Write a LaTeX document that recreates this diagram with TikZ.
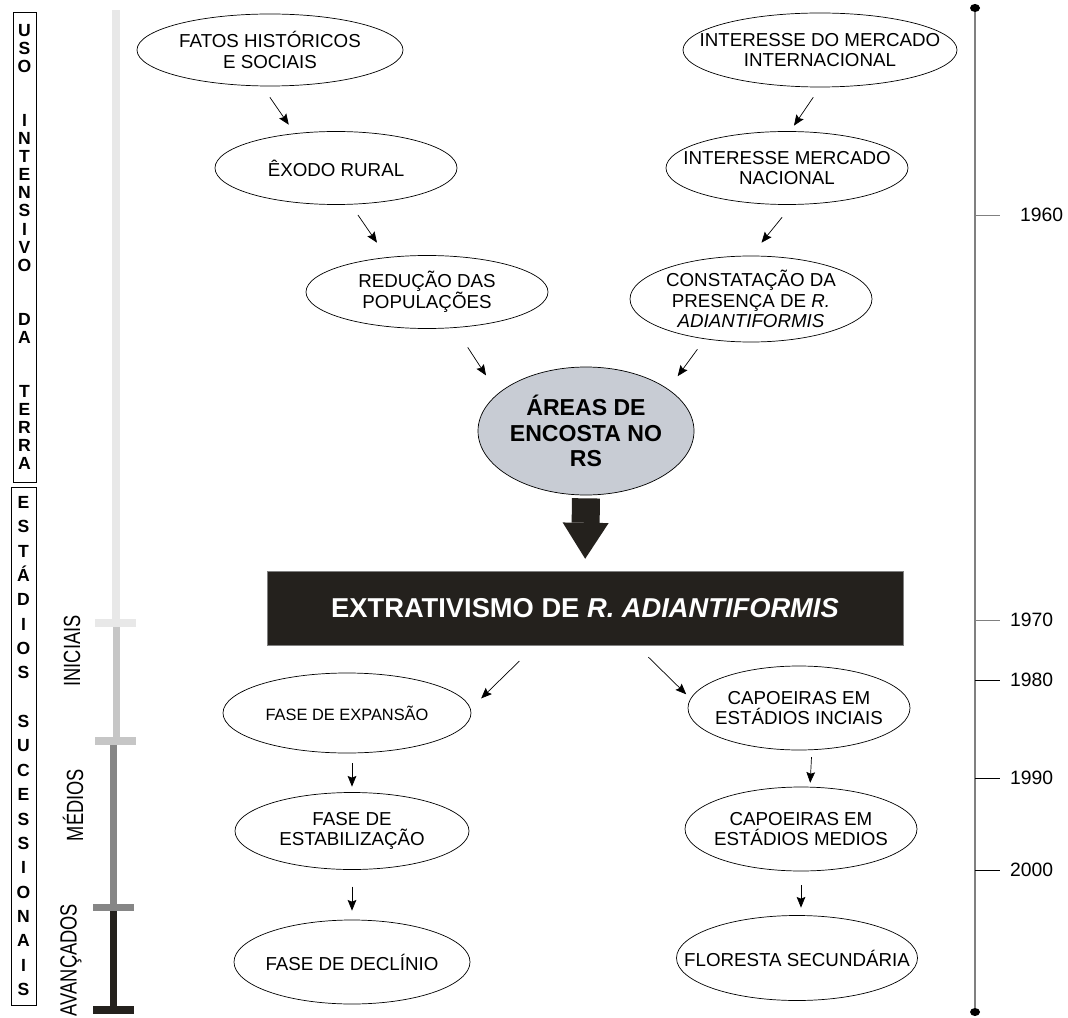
\documentclass[tikz,border=0pt]{standalone}
\usepackage{fontspec}
\setmainfont{Liberation Sans}
\newfontfamily\narrowfont[FakeStretch=0.78]{Liberation Sans}
\usetikzlibrary{shapes.geometric,arrows.meta}

\definecolor{areagray}{RGB}{200,204,212}
\definecolor{barblack}{RGB}{36,33,29}
\definecolor{barlight}{RGB}{232,232,232}
\definecolor{barmid}{RGB}{198,198,198}
\definecolor{bardark}{RGB}{134,134,134}
\definecolor{linegray}{RGB}{128,128,128}

\tikzset{
  oval/.style 2 args={ellipse, draw, line width=0.6pt, minimum width=#1*0.03cm, minimum height=#2*0.03cm, inner sep=0pt},
  txt/.style={align=center, inner sep=0pt, font=\fontsize{16}{17.5}\selectfont},
  arr/.style={-{Stealth[length=3.2mm,width=2.6mm,inset=0.5mm]}, line width=0.6pt},
  bigarr/.style={-{Triangle[length=1.08cm,width=1.38cm,line width=0pt]}, line width=0.84cm, draw=barblack},
  letters/.style={draw, line width=0.6pt, align=center, inner sep=0pt, font=\fontsize{15}{#1}\selectfont\bfseries},
  vlabel/.style={rotate=90, inner sep=0pt, font=\narrowfont\fontsize{20}{20}\selectfont},
  year/.style={anchor=west, inner sep=0pt, font=\fontsize{16.5}{16.5}\selectfont},
}

\begin{document}
\begin{tikzpicture}[x=0.03cm, y=-0.03cm]
  \useasboundingbox (0,0) rectangle (1068,1018);

  % boxes on the left
  \node[letters=15.4pt, minimum width=23*0.03cm, minimum height=470*0.03cm] (uso) at (24.5,247)
    {U\\S\\O\\[30.8pt]I\\N\\T\\E\\N\\S\\I\\V\\O\\[30.8pt]D\\A\\[30.8pt]T\\E\\R\\R\\A};
  \node[letters=20.8pt, minimum width=25*0.03cm, minimum height=518*0.03cm] (estadios) at (23.5,746)
    {E\\S\\T\\Á\\D\\I\\O\\S\\[20.8pt]S\\U\\C\\E\\S\\S\\I\\O\\N\\A\\I\\S};

  % stage bar
  \fill[barlight] (112,10) rectangle (120,620);
  \fill[barlight] (95,619) rectangle (136,627);
  \fill[barmid] (113,627) rectangle (120,737);
  \fill[barmid] (95,737) rectangle (136,745);
  \fill[bardark] (110,745) rectangle (117,904);
  \fill[bardark] (93,904) rectangle (134,911);
  \fill[barblack] (110,911) rectangle (117,1006);
  \fill[barblack] (93,1006) rectangle (134,1014);
  \node[vlabel] (iniciais) at (72,651) {INICIAIS};
  \node[vlabel] (medios) at (73,805) {MÉDIOS};
  \node[vlabel] (avancados) at (71,960) {AVANÇADOS};

  % time line
  \draw[linegray, line width=1.6pt] (975,8) -- (975,1012);
  \fill (975,8) ellipse [x radius=5, y radius=4];
  \fill (975,1012) ellipse [x radius=5, y radius=4];
  \foreach \y/\c in {215/linegray, 620/linegray, 680/black, 778/black, 870/black}
    \draw[\c, line width=0.8pt] (975,\y) -- (1000,\y);
  \node[year] (y1960) at (1020,215) {1960};
  \node[year] (y1970) at (1010,620) {1970};
  \node[year] (y1980) at (1010,680) {1980};
  \node[year] (y1990) at (1010,778) {1990};
  \node[year] (y2000) at (1010,870) {2000};

  % causes
  \node[oval={266}{72}] (fatos) at (270,50) {};
  \node[txt] (fatos-t) at (fatos) {FATOS HISTÓRICOS\\E SOCIAIS};
  \node[oval={274}{74}] (intl) at (820,50) {};
  \node[txt] (intl-t) at (intl) {INTERESSE DO MERCADO\\INTERNACIONAL};
  \node[oval={242}{73}] (exodo) at (336,168) {};
  \node[txt] (exodo-t) at (exodo) {ÊXODO RURAL};
  \node[oval={242}{73}] (nac) at (787,168) {};
  \node[txt] (nac-t) at (nac) {INTERESSE MERCADO\\NACIONAL};
  \node[oval={242}{73}] (reduc) at (427,292) {};
  \node[txt] (reduc-t) at (reduc) {REDUÇÃO DAS\\POPULAÇÕES};
  \node[oval={242}{86}] (const) at (751,299) {};
  \node[txt] (const-t) at (const) {CONSTATAÇÃO DA\\PRESENÇA DE \textit{R.}\\\textit{ADIANTIFORMIS}};
  \node[oval={216}{128}, fill=areagray] (areas) at (586,431) {};
  \node[align=center, inner sep=0pt, font=\fontsize{19.7}{22}\selectfont\bfseries] (areas-t) at (areas)
    {ÁREAS DE\\ENCOSTA NO\\RS};
  \node[draw=linegray, fill=barblack, minimum width=636*0.03cm, minimum height=74*0.03cm] (extr) at (585,608) {};
  \node[text=white, inner sep=0pt, font=\fontsize{23.3}{23.3}\selectfont\bfseries] (extr-t) at (extr)
    {EXTRATIVISMO DE \textit{R. ADIANTIFORMIS}};

  % consequences
  \node[oval={248}{80}] (exp) at (347,713) {};
  \node[txt, font=\fontsize{14}{15}\selectfont] (exp-t) at (exp) {FASE DE EXPANSÃO};
  \node[oval={222}{84}] (capi) at (799,708) {};
  \node[txt] (capi-t) at (capi) {CAPOEIRAS EM\\ESTÁDIOS INCIAIS};
  \node[oval={234}{77}] (estab) at (352,831) {};
  \node[txt] (estab-t) at (estab) {FASE DE\\ESTABILIZAÇÃO};
  \node[oval={232}{84}] (capm) at (801,829) {};
  \node[txt] (capm-t) at (capm) {CAPOEIRAS EM\\ESTÁDIOS MEDIOS};
  \node[oval={236}{84}] (decl) at (352,962) {};
  \node[txt] (decl-t) at (decl) {FASE DE DECLÍNIO};
  \node[oval={241}{85}] (flor) at (797,958) {};
  \node[txt] (flor-t) at (flor) {FLORESTA SECUNDÁRIA};

  % arrows
  \draw[arr, shorten <=4mm, shorten >=3.15mm] (fatos.-102) -- (exodo.140);
  \draw[arr, shorten <=3.6mm, shorten >=2mm] (intl.south) -- (nac.85);
  \draw[arr, shorten <=3.8mm, shorten >=5.3mm] (exodo.-68) -- (reduc.139);
  \draw[arr, shorten <=4.8mm, shorten >=5mm] (nac.-82) -- (const.north);
  \draw[arr, shorten <=7mm, shorten >=6.5mm] (reduc.-52.5) -- (areas.157);
  \draw[arr, shorten <=3.8mm, shorten >=4.8mm] (const.-139.4) -- (areas.27);
  \draw[bigarr, shorten <=0.09cm, shorten >=0.36cm] (areas.south) -- (extr.north);
  \draw[arr, shorten <=6.8mm, shorten >=4.4mm] (extr.-143.5) -- (exp.2);
  \draw[arr, shorten <=5.1mm, shorten >=1.8mm] (extr.-36) -- (capi.175);
  \draw[arr, shorten <=3mm, shorten >=1.65mm] (exp.south -| estab.north) -- (estab.north);
  \draw[arr, shorten <=5mm, shorten >=2.7mm] (estab) -- (decl);
  \draw[arr, shorten <=2.1mm, shorten >=1.2mm] (capi.-73) -- (capm.78);
  \draw[arr, shorten <=4.2mm, shorten >=2.25mm] (capm) -- (capm |- flor.north);
\end{tikzpicture}
\end{document}
